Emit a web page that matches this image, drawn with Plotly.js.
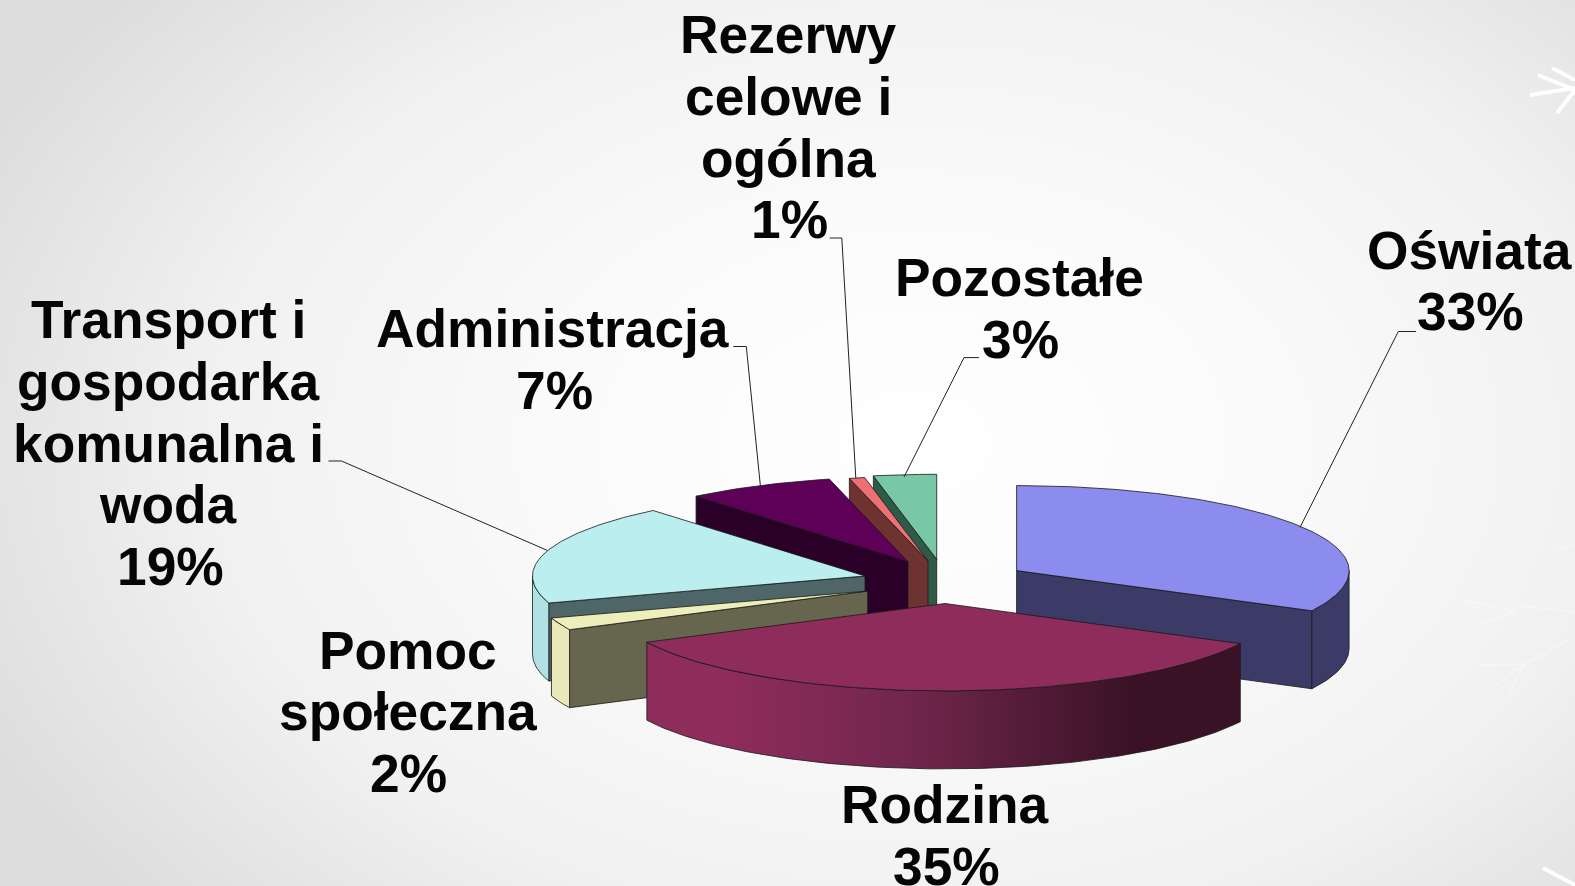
<!DOCTYPE html>
<html><head><meta charset="utf-8">
<script src="https://cdn.plot.ly/plotly-3.0.1.min.js"></script>
<style>
html,body{margin:0;padding:0;width:1575px;height:886px;overflow:hidden;
background:radial-gradient(ellipse 66% 80% at 58% 50%,#ffffff 0%,#fafafa 35%,#f1f1f1 68%,#dcdcdc 100%);}
#c{width:1575px;height:886px}
</style></head><body><div id="c"></div>
<script>
// DATA: share of each category, clockwise from 12 o'clock
const categories = ["Oświata","Rodzina","Pomoc społeczna","Transport i gospodarka komunalna i woda","Administracja","Rezerwy celowe i ogólna","Pozostałe"];
const shares = [32.6,35.1,2.3,19,7.2,0.75,3.05];
const shareLabels = ["33%","35%","2%","19%","7%","1%","3%"];
const labelLines = [["Oświata"],["Rodzina"],["Pomoc","społeczna"],["Transport i","gospodarka","komunalna i","woda"],["Administracja"],["Rezerwy","celowe i","ogólna"],["Pozostałe"]];

// STYLE
const topColors  = ["#8c8cee","#8e2c5c","#eeeebb","#bbeeee","#5f0058","#ef7070","#78c8a8"];
const rimColors  = ["#3c3a66","#8e2c5c","#e8e8b8","#b0e2e4","#5f0058","#ef7070","#78c8a8"];
const wallColors = ["#3c3a66","#70264c","#66664e","#4e6668","#2b0028","#6e3230","#305a48"];
// exploded apex of each slice, in page pixels
const apexX = [1016.6,945,867.7,865,908,928,936.7];
const apexY = [570.6,603.5,591,576,561.7,561,559.3];
const labelX = [1469,945,408,168,552.5,788.5,1019.6];
const labelY = [250,804.6,650,319.5,328.5,34.5,277.5];
const pctShift = [1.5,1,0,2,1.5,0.5,0.5];
const drawOrder = [0,6,5,4,3,2,1];
const RX=332.5, RY=87.4, RY_BACK=85, DEPTH=78, LINE_H=61.8, FS=53.3;
const leaders = [
 [[1300,527.4],[1398.3,331.5],[1416,331.5]],
 [[904,477],[964,357.6],[979,357.6]],
 [[855.8,478],[841.8,238],[829.7,238]],
 [[760.4,486],[746.3,346.5],[733.3,346.5]],
 [[547.5,550.5],[341.5,461],[328.5,461]]
];
const flakes = [
 {w:4,c:"rgba(255,255,255,.95)",p:[[[1530,95],[1575,88]],[[1538,75],[1575,90]],[[1552,68],[1575,80]],[[1557,113],[1575,90]],[[1543,868],[1575,885]]]},
 {w:1.5,c:"rgba(255,255,255,.35)",p:[[[1519,606],[1575,612]],[[1519,606],[1500,583]],[[1515,611],[1462,600]],[[1515,611],[1478,625]],[[1568,640],[1525,664]],[[1525,664],[1480,665]],[[1525,664],[1482,695]],[[1525,664],[1508,695]],[[1575,545],[1555,550]]]}
];

const OUT="rgba(25,25,25,.8)";
const rad=d=>d*Math.PI/180;
const px=(i,a)=>apexX[i]+RX*Math.sin(rad(a));
const py=(i,a)=>{const c=Math.cos(rad(a));return apexY[i]-(c>0?RY_BACK:RY)*c;};
function poly(xs,ys,fill,name,extra){
  return Object.assign({type:"scatter",mode:"lines",x:xs.concat(xs[0]),y:ys.concat(ys[0]),fill:"toself",fillcolor:fill,
    line:{color:OUT,width:1},hoverinfo:"text",text:name,showlegend:false},extra||{});
}
function arc(i,a0,a1,dy){
  const xs=[],ys=[];const n=Math.max(2,Math.ceil(Math.abs(a1-a0)));
  for(let k=0;k<=n;k++){const a=a0+(a1-a0)*k/n;xs.push(px(i,a));ys.push(py(i,a)+dy);}
  return [xs,ys];
}
const traces=[];
const total=shares.reduce((a,b)=>a+b,0);
const starts=[];let acc=0;shares.forEach(v=>{starts.push(acc/total*360);acc+=v;});
drawOrder.forEach(i=>{
  const a0=starts[i],a1=a0+shares[i]/total*360,name=categories[i]+" "+shareLabels[i];
  const wa=a1<=180?a1:(a0>=180?a0:null);
  if(wa!==null){
    traces.push(poly([apexX[i],px(i,wa),px(i,wa),apexX[i]],[apexY[i],py(i,wa),py(i,wa)+DEPTH,apexY[i]+DEPTH],wallColors[i],name));
  }
  const r0=Math.max(a0,90),r1=Math.min(a1,270);
  if(r1>r0){
    const [tx,ty]=arc(i,r0,r1,0),[bx,by]=arc(i,r1,r0,DEPTH);
    const extra=i===1?{fillgradient:{type:"horizontal",colorscale:[[0,"#8e2c5c"],[0.14,"#8e2c5c"],[0.45,"#70264c"],[0.82,"#3a1226"],[1,"#3a1226"]]}}:{};
    traces.push(poly(tx.concat(bx),ty.concat(by),rimColors[i],name,extra));
  }
  const [ax,ay]=arc(i,a0,a1,0);
  traces.push(poly([apexX[i]].concat(ax),[apexY[i]].concat(ay),topColors[i],name));
});
leaders.forEach(l=>traces.push({type:"scatter",mode:"lines",x:l.map(p=>p[0]),y:l.map(p=>p[1]),line:{color:"#222",width:1},hoverinfo:"skip",showlegend:false}));

const annotations=[];
categories.forEach((c,i)=>{
  const lines=labelLines[i].concat(shareLabels[i]);
  lines.forEach((t,k)=>{
    annotations.push({xref:"x",yref:"y",x:labelX[i]+(k===lines.length-1?pctShift[i]:0),y:labelY[i]+k*LINE_H,text:t,showarrow:false,xanchor:"center",yanchor:"middle",
      borderpad:0,font:{family:"Liberation Sans, Arial, sans-serif",size:FS,color:"#050505",weight:700}});
  });
});
const shapes=[];
flakes.forEach(f=>f.p.forEach(s=>shapes.push({type:"line",xref:"x",yref:"y",x0:s[0][0],y0:s[0][1],x1:s[1][0],y1:s[1][1],line:{color:f.c,width:f.w},layer:"below"})));

Plotly.newPlot("c",traces,{
  width:1575,height:886,margin:{l:0,r:0,t:0,b:0},paper_bgcolor:"rgba(0,0,0,0)",plot_bgcolor:"rgba(0,0,0,0)",
  showlegend:false,
  xaxis:{range:[0,1575],visible:false,fixedrange:true},
  yaxis:{range:[886,0],visible:false,fixedrange:true},
  annotations,shapes
},{displayModeBar:false});
</script></body></html>
